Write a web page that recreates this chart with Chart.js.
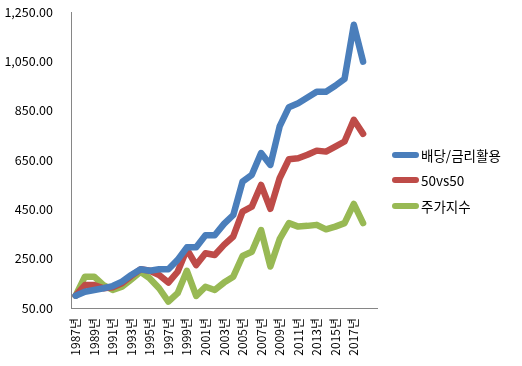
<!DOCTYPE html>
<html>
<head>
<meta charset="utf-8">
<script src="https://cdn.jsdelivr.net/npm/chart.js@4"></script>
<style>
  html, body { margin: 0; padding: 0; background: #fff; }
  #wrap { position: relative; width: 522px; height: 366px; }
  #legend { position: absolute; left: 392px; top: 142px; font-family: "Noto Sans CJK KR", sans-serif; font-size: 13.5px; color: #000; }
  .item { height: 25.5px; display: flex; align-items: center; }
  .swatch { width: 27px; height: 6px; border-radius: 3px; margin-right: 2px; }
</style>
</head>
<body>
<div id="wrap">
  <canvas id="chart" width="522" height="366"></canvas>
  <div id="legend"></div>
</div>
<script>
// categories (last slot is empty, as in the source sheet)
const years = ['1987년','1988년','1989년','1990년','1991년','1992년','1993년','1994년','1995년','1996년',
  '1997년','1998년','1999년','2000년','2001년','2002년','2003년','2004년','2005년','2006년',
  '2007년','2008년','2009년','2010년','2011년','2012년','2013년','2014년','2015년','2016년',
  '2017년','2018년',''];

const seriesNames = ['배당/금리활용', '50vs50', '주가지수'];
const seriesColors = ['#4A7EBB', '#BE4B48', '#98B954'];

const dividendRate = [100, 116, 123, 130, 139, 157, 184, 207, 201, 207,
  207, 245, 296, 296, 345, 345, 391, 427, 562, 590,
  678, 630, 786, 864, 880, 903, 927, 927, 951, 979,
  1198, 1049];
const fiftyFifty = [100, 143, 143, 130, 134, 150, 180, 207, 201, 184,
  153, 197, 288, 224, 272, 265, 306, 340, 441, 461,
  549, 452, 576, 653, 657, 671, 688, 684, 704, 725,
  813, 756];
const stockIndex = [100, 177, 177, 143, 123, 136, 166, 197, 170, 130,
  76, 110, 201, 99, 136, 123, 153, 177, 261, 278,
  366, 218, 329, 394, 380, 383, 387, 369, 380, 394,
  472, 394];

const yTicks = [50, 250, 450, 650, 850, 1050, 1250];

const allSeries = [dividendRate, fiftyFifty, stockIndex];

function buildDatasets() {
    return allSeries.map(function(values, i) {
        return {
            label: seriesNames[i],
            data: values,
            borderColor: seriesColors[i],
            backgroundColor: seriesColors[i],
            borderWidth: 6.5,
            borderCapStyle: 'round',
            borderJoinStyle: 'round',
            pointRadius: 0,
            tension: 0,
            fill: false
        };
    });
}

function buildLegend() {
    const box = document.getElementById('legend');
    seriesNames.forEach(function(name, i) {
        const row = document.createElement('div');
        row.className = 'item';
        const sw = document.createElement('span');
        sw.className = 'swatch';
        sw.style.background = seriesColors[i];
        const txt = document.createElement('span');
        txt.textContent = name;
        row.appendChild(sw);
        row.appendChild(txt);
        box.appendChild(row);
    });
}

const font = { family: '"Noto Sans CJK KR", sans-serif', size: 12 };

new Chart(document.getElementById('chart'), {
    type: 'line',
    data: { labels: years, datasets: buildDatasets() },
    options: {
        responsive: false,
        animation: false,
        layout: { padding: { top: 12, right: 145, left: 0, bottom: 0 } },
        plugins: { legend: { display: false }, tooltip: { enabled: false } },
        scales: {
            x: {
                offset: true,
                // ticks hidden, tickLength only keeps the labels off the axis
                grid: { display: false, drawTicks: true, tickLength: 10 },
                border: { color: '#868686', width: 1 },
                afterFit: function(scale) { scale.height = 58; },
                ticks: {
                    autoSkip: false,
                    maxRotation: 90,
                    minRotation: 90,
                    padding: 0,
                    color: '#000',
                    font: font,
                    callback: function(value, index) {
                        return index % 2 === 0 ? years[index] : '';
                    }
                }
            },
            y: {
                min: 50,
                max: 1250,
                afterBuildTicks: function(scale) {
                    scale.ticks = yTicks.map(function(v) { return { value: v }; });
                },
                afterFit: function(scale) { scale.width = 71; },
                grid: { display: false, drawTicks: true, tickLength: 18 },
                border: { color: '#868686', width: 1 },
                ticks: {
                    padding: 0,
                    color: '#000',
                    font: { family: font.family, size: 12.5 },
                    callback: function(value) {
                        return value.toLocaleString('en-US', { minimumFractionDigits: 2, maximumFractionDigits: 2 });
                    }
                }
            }
        }
    }
});

buildLegend();
</script>
</body>
</html>
